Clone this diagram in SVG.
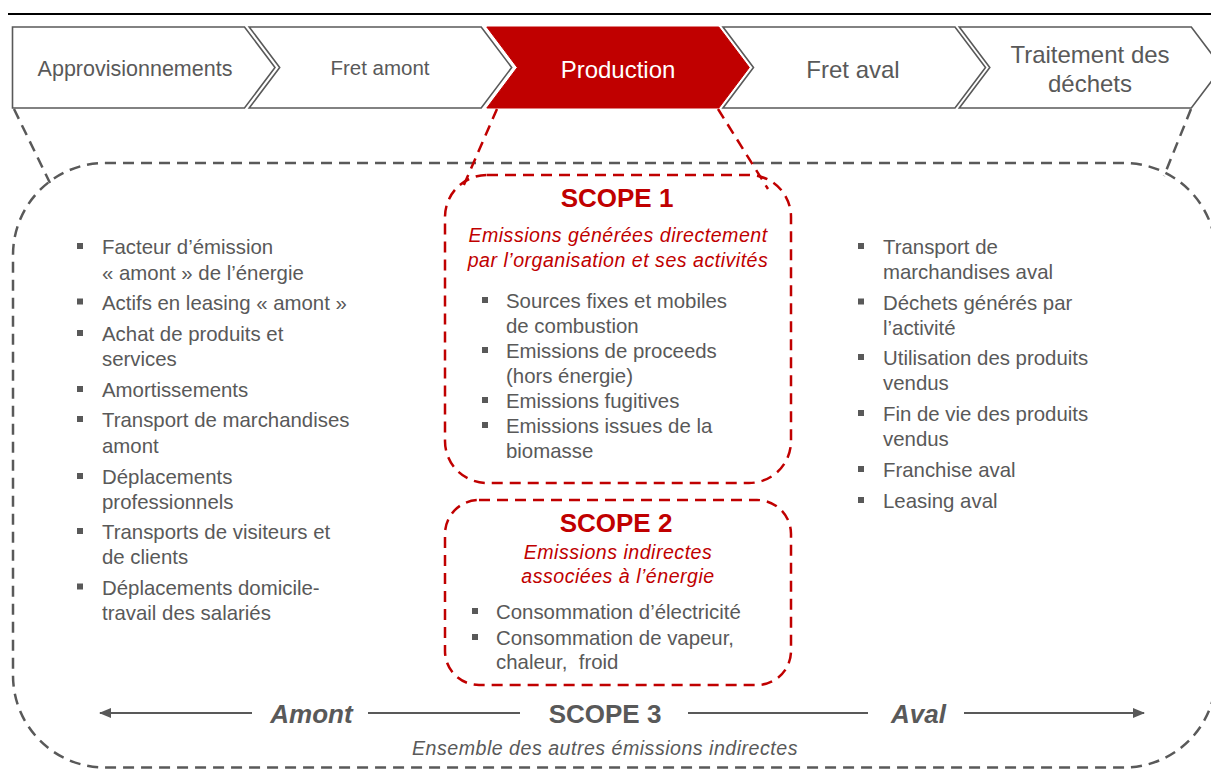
<svg xmlns="http://www.w3.org/2000/svg" width="1211" height="778" viewBox="0 0 1211 778">
  <defs>
    <style>
      text { font-family: "Liberation Sans", Arial, Helvetica, sans-serif; }
      .chev { fill: #ffffff; stroke: #595959; stroke-width: 1.6; }
      .chev-on { fill: #C00000; stroke: #C00000; stroke-width: 1; }
      .ctext { fill: #595959; text-anchor: middle; }
      .ctext-on { fill: #ffffff; text-anchor: middle; }
      .body { fill: #595959; font-size: 20.4px; }
      .title { font-weight: bold; font-size: 26px; text-anchor: middle; }
      .red { fill: #C00000; }
      .gray { fill: #595959; }
      .sub { font-style: italic; font-size: 19.6px; letter-spacing: 0.5px; text-anchor: middle; }
      .dash-gray { fill: none; stroke: #595959; stroke-width: 2.5; stroke-dasharray: 11 7; }
      .dash-red { fill: none; stroke: #C00000; stroke-width: 2.5; stroke-dasharray: 11 7; }
      .axis { fill: none; stroke: #595959; stroke-width: 2; }
      .dir { font-weight: bold; font-style: italic; font-size: 26px; fill: #595959; text-anchor: middle; }
    </style>
    <rect id="sq" width="6" height="6" fill="#595959"/>
    <marker id="head" viewBox="0 0 12 10" refX="11" refY="5" markerWidth="12" markerHeight="10" markerUnits="userSpaceOnUse" orient="auto-start-reverse">
      <path d="M0,0 L12,5 L0,10 Z" fill="#595959"/>
    </marker>
  </defs>

  <rect width="1211" height="778" fill="#ffffff"/>

  <!-- header rule -->
  <line x1="8" y1="14" x2="1211" y2="14" stroke="#000000" stroke-width="2"/>

  <!-- value chain chevrons -->
  <g id="chev-approvisionnements">
    <path class="chev" d="M12.5,27 H244.5 L275,67.5 L244.5,108 H12.5 Z"/>
    <text class="ctext" x="135" y="76" font-size="21.5">Approvisionnements</text>
  </g>
  <g id="chev-fret-amont">
    <path class="chev" d="M249.2,27 H481.2 L511.7,67.5 L481.2,108 H249.2 L279.7,67.5 Z"/>
    <text class="ctext" x="380" y="75" font-size="20.5">Fret amont</text>
  </g>
  <g id="chev-production">
    <path class="chev-on" d="M486.8,27 H718.8 L749.3,67.5 L718.8,108 H486.8 L517.3,67.5 Z"/>
    <text class="ctext-on" x="618" y="78" font-size="24">Production</text>
  </g>
  <g id="chev-fret-aval">
    <path class="chev" d="M723,27 H955 L985.5,67.5 L955,108 H723 L753.5,67.5 Z"/>
    <text class="ctext" x="853" y="78" font-size="24">Fret aval</text>
  </g>
  <g id="chev-dechets">
    <path class="chev" d="M959.3,27 H1191.3 L1221.8,67.5 L1191.3,108 H959.3 L989.8,67.5 Z"/>
    <text class="ctext" x="1090" y="63" font-size="24">Traitement des</text>
    <text class="ctext" x="1090" y="92" font-size="24">déchets</text>
  </g>

  <!-- scope 3 envelope -->
  <g id="scope3">
    <rect class="dash-gray" x="13" y="163" width="1203" height="604.5" rx="92" ry="92"/>
    <text class="title gray" x="605" y="723">SCOPE 3</text>
    <text class="sub gray" x="605" y="755">Ensemble des autres émissions indirectes</text>
  </g>

  <!-- upstream list -->
  <g id="amont-list" class="body">
    <use href="#sq" x="77" y="243"/>
    <text x="102" y="254">Facteur d’émission</text>
    <text x="102" y="279.5">« amont » de l’énergie</text>
    <use href="#sq" x="77" y="298.5"/>
    <text x="102" y="309.5">Actifs en leasing « amont »</text>
    <use href="#sq" x="77" y="330"/>
    <text x="102" y="341">Achat de produits et</text>
    <text x="102" y="366">services</text>
    <use href="#sq" x="77" y="386"/>
    <text x="102" y="397">Amortissements</text>
    <use href="#sq" x="77" y="416"/>
    <text x="102" y="427">Transport de marchandises</text>
    <text x="102" y="452.5">amont</text>
    <use href="#sq" x="77" y="473"/>
    <text x="102" y="484">Déplacements</text>
    <text x="102" y="508.5">professionnels</text>
    <use href="#sq" x="77" y="528"/>
    <text x="102" y="539">Transports de visiteurs et</text>
    <text x="102" y="564">de clients</text>
    <use href="#sq" x="77" y="583.5"/>
    <text x="102" y="594.5">Déplacements domicile-</text>
    <text x="102" y="619.5">travail des salariés</text>
  </g>

  <!-- downstream list -->
  <g id="aval-list" class="body">
    <use href="#sq" x="858" y="243"/>
    <text x="883" y="254">Transport de</text>
    <text x="883" y="279">marchandises aval</text>
    <use href="#sq" x="858" y="298.5"/>
    <text x="883" y="309.5">Déchets générés par</text>
    <text x="883" y="335">l’activité</text>
    <use href="#sq" x="858" y="354"/>
    <text x="883" y="365">Utilisation des produits</text>
    <text x="883" y="390">vendus</text>
    <use href="#sq" x="858" y="410"/>
    <text x="883" y="421">Fin de vie des produits</text>
    <text x="883" y="446">vendus</text>
    <use href="#sq" x="858" y="466"/>
    <text x="883" y="477">Franchise aval</text>
    <use href="#sq" x="858" y="497"/>
    <text x="883" y="508">Leasing aval</text>
  </g>

  <!-- scope 1 -->
  <g id="scope1">
    <rect class="dash-red" x="445" y="175" width="346" height="308" rx="42" ry="42"/>
    <text class="title red" x="617" y="207">SCOPE 1</text>
    <text class="sub red" x="618" y="242">Emissions générées directement</text>
    <text class="sub red" x="618" y="267">par l’organisation et ses activités</text>
    <g class="body">
      <use href="#sq" x="482" y="297"/>
      <text x="506" y="308">Sources fixes et mobiles</text>
      <text x="506" y="333">de combustion</text>
      <use href="#sq" x="482" y="347"/>
      <text x="506" y="358">Emissions de proceeds</text>
      <text x="506" y="383">(hors énergie)</text>
      <use href="#sq" x="482" y="397"/>
      <text x="506" y="408">Emissions fugitives</text>
      <use href="#sq" x="482" y="422"/>
      <text x="506" y="433">Emissions issues de la</text>
      <text x="506" y="458">biomasse</text>
    </g>
  </g>

  <!-- scope 2 -->
  <g id="scope2">
    <rect class="dash-red" x="445" y="500" width="346" height="185" rx="34" ry="34"/>
    <text class="title red" x="616" y="532">SCOPE 2</text>
    <text class="sub red" x="618" y="559">Emissions indirectes</text>
    <text class="sub red" x="618" y="583">associées à l’énergie</text>
    <g class="body">
      <use href="#sq" x="472" y="608"/>
      <text x="496" y="619">Consommation d’électricité</text>
      <use href="#sq" x="472" y="634"/>
      <text x="496" y="645">Consommation de vapeur,</text>
      <text x="496" y="669">chaleur,&#160; froid</text>
    </g>
  </g>

  <!-- direction labels -->
  <g id="direction-labels">
    <text class="dir" x="311.5" y="723">Amont</text>
    <text class="dir" x="918.5" y="723">Aval</text>
  </g>

  <!-- connectors -->
  <g id="connectors">
    <line class="dash-gray" x1="14" y1="109" x2="50" y2="183"/>
    <line class="dash-gray" x1="1191" y1="109" x2="1164" y2="176"/>
    <line class="dash-red" x1="497" y1="109" x2="463" y2="187"/>
    <line class="dash-red" x1="718" y1="109" x2="768" y2="189"/>
    <line class="axis" x1="252" y1="713" x2="100" y2="713" marker-end="url(#head)"/>
    <line class="axis" x1="368" y1="713" x2="520" y2="713"/>
    <line class="axis" x1="688" y1="713" x2="868" y2="713"/>
    <line class="axis" x1="964" y1="713" x2="1144" y2="713" marker-end="url(#head)"/>
  </g>
</svg>
